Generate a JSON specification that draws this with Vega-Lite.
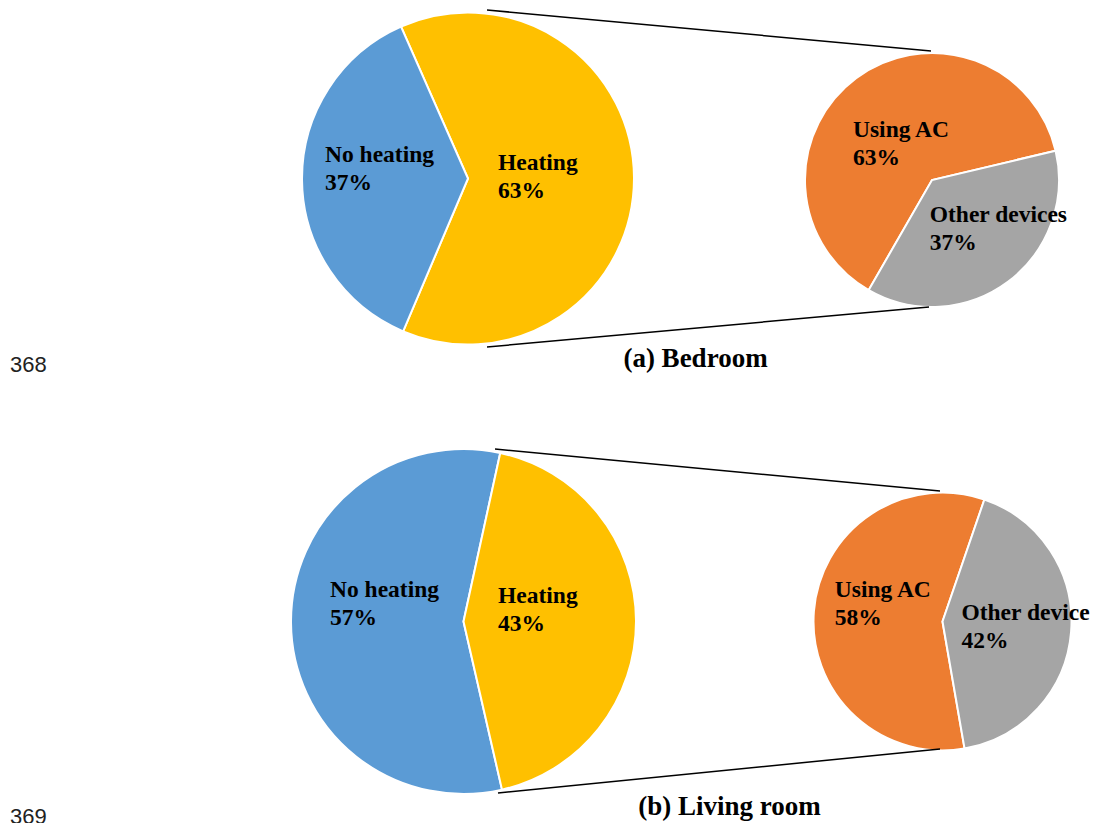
{
  "$schema": "https://vega.github.io/schema/vega-lite/v6.json",
  "width": 1100,
  "height": 823,
  "padding": 0,
  "autosize": {"type": "fit", "contains": "padding"},
  "background": "white",
  "config": {"view": {"stroke": null}},
  "datasets": {
    "pies": [
      {"room": "Bedroom", "pie": "main", "segment": "Heating", "label": "Heating", "value": 63},
      {"room": "Bedroom", "pie": "main", "segment": "No heating", "label": "No heating", "value": 37},
      {"room": "Bedroom", "pie": "detail", "segment": "Using AC", "label": "Using AC", "value": 63},
      {"room": "Bedroom", "pie": "detail", "segment": "Other devices", "label": "Other devices", "value": 37},
      {"room": "Living room", "pie": "main", "segment": "No heating", "label": "No heating", "value": 57},
      {"room": "Living room", "pie": "main", "segment": "Heating", "label": "Heating", "value": 43},
      {"room": "Living room", "pie": "detail", "segment": "Using AC", "label": "Using AC", "value": 58},
      {"room": "Living room", "pie": "detail", "segment": "Other devices", "label": "Other device", "value": 42}
    ]
  },
  "data": {"name": "pies"},
  "transform": [
    {"stack": "value", "groupby": ["room", "pie"], "sort": [{"field": "value", "order": "descending"}], "as": ["v0", "v1"]},
    {"calculate": "(datum.v0 + datum.v1) / 2", "as": "mid"},
    {"calculate": "datum.label + '\\n' + datum.value + '%'", "as": "txt"}
  ],
  "resolve": {"scale": {"theta": "independent"}},
  "layer": [
    {
      "transform": [{"filter": "datum.room === 'Bedroom' && datum.pie === 'main'"}],
      "encoding": {
        "x": {"datum": 468, "type": "quantitative", "scale": {"domain": [0, 1100], "nice": false, "zero": false}, "axis": null},
        "y": {"datum": 178.5, "type": "quantitative", "scale": {"domain": [0, 823], "nice": false, "zero": false, "reverse": true}, "axis": null}
      },
      "layer": [
        {
          "mark": {"type": "arc", "outerRadius": 166, "stroke": "white", "strokeWidth": 2},
          "encoding": {
            "theta": {"field": "v0", "type": "quantitative", "stack": null, "scale": {"domain": [0, 100], "range": [-0.41539, 5.8678]}},
            "theta2": {"field": "v1"},
            "color": {"field": "segment", "type": "nominal", "legend": null, "scale": {"domain": ["No heating", "Heating", "Using AC", "Other devices"], "range": ["#5B9BD5", "#FFC000", "#ED7D31", "#A5A5A5"]}}
          }
        },
        {
          "transform": [{"filter": "datum.segment === 'No heating'"}],
          "mark": {"type": "text", "radius": 143, "dy": -17.5, "align": "left", "baseline": "alphabetic", "lineBreak": "\n", "font": "Liberation Serif", "fontWeight": "bold", "fontSize": 23.5, "lineHeight": 28, "color": "black"},
          "encoding": {
            "theta": {"field": "mid", "type": "quantitative", "stack": null, "scale": {"domain": [0, 100], "range": [-0.41539, 5.8678]}},
            "text": {"field": "txt", "type": "nominal"}
          }
        },
        {
          "transform": [{"filter": "datum.segment === 'Heating'"}],
          "mark": {"type": "text", "radius": 30, "dy": -8.3, "align": "left", "baseline": "alphabetic", "lineBreak": "\n", "font": "Liberation Serif", "fontWeight": "bold", "fontSize": 23.5, "lineHeight": 28, "color": "black"},
          "encoding": {
            "theta": {"field": "mid", "type": "quantitative", "stack": null, "scale": {"domain": [0, 100], "range": [-0.41539, 5.8678]}},
            "text": {"field": "txt", "type": "nominal"}
          }
        }
      ]
    },
    {
      "transform": [{"filter": "datum.room === 'Bedroom' && datum.pie === 'detail'"}],
      "encoding": {
        "x": {"datum": 932, "type": "quantitative", "scale": {"domain": [0, 1100], "nice": false, "zero": false}, "axis": null},
        "y": {"datum": 180, "type": "quantitative", "scale": {"domain": [0, 823], "nice": false, "zero": false, "reverse": true}, "axis": null}
      },
      "layer": [
        {
          "mark": {"type": "arc", "outerRadius": 127, "stroke": "white", "strokeWidth": 2},
          "encoding": {
            "theta": {"field": "v0", "type": "quantitative", "stack": null, "scale": {"domain": [0, 100], "range": [3.66345, 9.94664]}},
            "theta2": {"field": "v1"},
            "color": {"field": "segment", "type": "nominal", "legend": null}
          }
        },
        {
          "transform": [{"filter": "datum.segment === 'Using AC'"}],
          "mark": {"type": "text", "radius": 82, "dx": -30, "dy": 22.5, "align": "left", "baseline": "alphabetic", "lineBreak": "\n", "font": "Liberation Serif", "fontWeight": "bold", "fontSize": 23.5, "lineHeight": 28, "color": "black"},
          "encoding": {
            "theta": {"field": "mid", "type": "quantitative", "stack": null, "scale": {"domain": [0, 100], "range": [3.66345, 9.94664]}},
            "text": {"field": "txt", "type": "nominal"}
          }
        },
        {
          "transform": [{"filter": "datum.segment === 'Other devices'"}],
          "mark": {"type": "text", "radius": 33, "dx": -22, "dy": 16, "align": "left", "baseline": "alphabetic", "lineBreak": "\n", "font": "Liberation Serif", "fontWeight": "bold", "fontSize": 23.5, "lineHeight": 28, "color": "black"},
          "encoding": {
            "theta": {"field": "mid", "type": "quantitative", "stack": null, "scale": {"domain": [0, 100], "range": [3.66345, 9.94664]}},
            "text": {"field": "txt", "type": "nominal"}
          }
        }
      ]
    },
    {
      "transform": [{"filter": "datum.room === 'Living room' && datum.pie === 'main'"}],
      "encoding": {
        "x": {"datum": 463.5, "type": "quantitative", "scale": {"domain": [0, 1100], "nice": false, "zero": false}, "axis": null},
        "y": {"datum": 621.5, "type": "quantitative", "scale": {"domain": [0, 823], "nice": false, "zero": false, "reverse": true}, "axis": null}
      },
      "layer": [
        {
          "mark": {"type": "arc", "outerRadius": 172.5, "stroke": "white", "strokeWidth": 2},
          "encoding": {
            "theta": {"field": "v0", "type": "quantitative", "stack": null, "scale": {"domain": [0, 100], "range": [2.91645, 9.19964]}},
            "theta2": {"field": "v1"},
            "color": {"field": "segment", "type": "nominal", "legend": null}
          }
        },
        {
          "transform": [{"filter": "datum.segment === 'No heating'"}],
          "mark": {"type": "text", "radius": 133.5, "dy": -25.2, "align": "left", "baseline": "alphabetic", "lineBreak": "\n", "font": "Liberation Serif", "fontWeight": "bold", "fontSize": 23.5, "lineHeight": 28, "color": "black"},
          "encoding": {
            "theta": {"field": "mid", "type": "quantitative", "stack": null, "scale": {"domain": [0, 100], "range": [2.91645, 9.19964]}},
            "text": {"field": "txt", "type": "nominal"}
          }
        },
        {
          "transform": [{"filter": "datum.segment === 'Heating'"}],
          "mark": {"type": "text", "radius": 34.5, "dy": -18.3, "align": "left", "baseline": "alphabetic", "lineBreak": "\n", "font": "Liberation Serif", "fontWeight": "bold", "fontSize": 23.5, "lineHeight": 28, "color": "black"},
          "encoding": {
            "theta": {"field": "mid", "type": "quantitative", "stack": null, "scale": {"domain": [0, 100], "range": [2.91645, 9.19964]}},
            "text": {"field": "txt", "type": "nominal"}
          }
        }
      ]
    },
    {
      "transform": [{"filter": "datum.room === 'Living room' && datum.pie === 'detail'"}],
      "encoding": {
        "x": {"datum": 942.5, "type": "quantitative", "scale": {"domain": [0, 1100], "nice": false, "zero": false}, "axis": null},
        "y": {"datum": 621.5, "type": "quantitative", "scale": {"domain": [0, 823], "nice": false, "zero": false, "reverse": true}, "axis": null}
      },
      "layer": [
        {
          "mark": {"type": "arc", "outerRadius": 129, "stroke": "white", "strokeWidth": 2},
          "encoding": {
            "theta": {"field": "v0", "type": "quantitative", "stack": null, "scale": {"domain": [0, 100], "range": [2.96969, 9.25288]}},
            "theta2": {"field": "v1"},
            "color": {"field": "segment", "type": "nominal", "legend": null}
          }
        },
        {
          "transform": [{"filter": "datum.segment === 'Using AC'"}],
          "mark": {"type": "text", "radius": 109, "dx": 1, "dy": -16, "align": "left", "baseline": "alphabetic", "lineBreak": "\n", "font": "Liberation Serif", "fontWeight": "bold", "fontSize": 23.5, "lineHeight": 28, "color": "black"},
          "encoding": {
            "theta": {"field": "mid", "type": "quantitative", "stack": null, "scale": {"domain": [0, 100], "range": [2.96969, 9.25288]}},
            "text": {"field": "txt", "type": "nominal"}
          }
        },
        {
          "transform": [{"filter": "datum.segment === 'Other devices'"}],
          "mark": {"type": "text", "radius": 19, "dy": -3, "align": "left", "baseline": "alphabetic", "lineBreak": "\n", "font": "Liberation Serif", "fontWeight": "bold", "fontSize": 23.5, "lineHeight": 28, "color": "black"},
          "encoding": {
            "theta": {"field": "mid", "type": "quantitative", "stack": null, "scale": {"domain": [0, 100], "range": [2.96969, 9.25288]}},
            "text": {"field": "txt", "type": "nominal"}
          }
        }
      ]
    },
    {
      "data": {"values": [{"link": "Bedroom, upper connector"}]},
      "mark": {"type": "rule", "stroke": "black", "strokeWidth": 1.5},
      "encoding": {
        "x": {"datum": 487, "type": "quantitative"},
        "y": {"datum": 10, "type": "quantitative"},
        "x2": {"datum": 931},
        "y2": {"datum": 51}
      }
    },
    {
      "data": {"values": [{"link": "Bedroom, lower connector"}]},
      "mark": {"type": "rule", "stroke": "black", "strokeWidth": 1.5},
      "encoding": {
        "x": {"datum": 487, "type": "quantitative"},
        "y": {"datum": 347, "type": "quantitative"},
        "x2": {"datum": 929},
        "y2": {"datum": 307}
      }
    },
    {
      "data": {"values": [{"link": "Living room, upper connector"}]},
      "mark": {"type": "rule", "stroke": "black", "strokeWidth": 1.5},
      "encoding": {
        "x": {"datum": 495, "type": "quantitative"},
        "y": {"datum": 449, "type": "quantitative"},
        "x2": {"datum": 940},
        "y2": {"datum": 491}
      }
    },
    {
      "data": {"values": [{"link": "Living room, lower connector"}]},
      "mark": {"type": "rule", "stroke": "black", "strokeWidth": 1.5},
      "encoding": {
        "x": {"datum": 498, "type": "quantitative"},
        "y": {"datum": 793, "type": "quantitative"},
        "x2": {"datum": 940},
        "y2": {"datum": 749}
      }
    },
    {
      "data": {"values": [{"caption": "(a) Bedroom"}]},
      "mark": {"type": "text", "align": "center", "baseline": "alphabetic", "font": "Liberation Serif", "fontWeight": "bold", "fontSize": 27, "color": "black"},
      "encoding": {
        "x": {"datum": 695.5, "type": "quantitative"},
        "y": {"datum": 367, "type": "quantitative"},
        "text": {"field": "caption", "type": "nominal"}
      }
    },
    {
      "data": {"values": [{"caption": "(b) Living room"}]},
      "mark": {"type": "text", "align": "center", "baseline": "alphabetic", "font": "Liberation Serif", "fontWeight": "bold", "fontSize": 27, "color": "black"},
      "encoding": {
        "x": {"datum": 729.5, "type": "quantitative"},
        "y": {"datum": 815, "type": "quantitative"},
        "text": {"field": "caption", "type": "nominal"}
      }
    },
    {
      "data": {"values": [{"lineno": "368"}]},
      "mark": {"type": "text", "align": "left", "baseline": "alphabetic", "font": "Liberation Sans", "fontSize": 22, "color": "#222222"},
      "encoding": {
        "x": {"datum": 10, "type": "quantitative"},
        "y": {"datum": 371.7, "type": "quantitative"},
        "text": {"field": "lineno", "type": "nominal"}
      }
    },
    {
      "data": {"values": [{"lineno": "369"}]},
      "mark": {"type": "text", "align": "left", "baseline": "alphabetic", "font": "Liberation Sans", "fontSize": 22, "color": "#222222", "clip": true},
      "encoding": {
        "x": {"datum": 10, "type": "quantitative"},
        "y": {"datum": 823.5, "type": "quantitative"},
        "text": {"field": "lineno", "type": "nominal"}
      }
    }
  ]
}
